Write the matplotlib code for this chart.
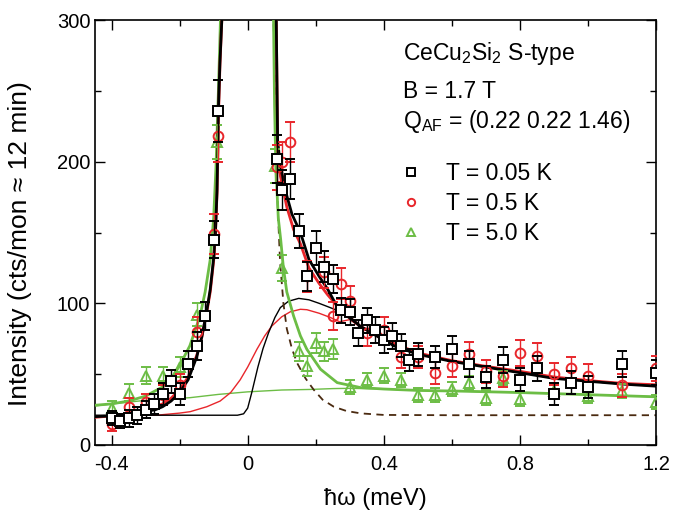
import matplotlib
matplotlib.use("Agg")
import matplotlib.pyplot as plt
from matplotlib.ticker import MultipleLocator

plt.rcParams['font.family'] = ['Liberation Sans', 'DejaVu Sans']
plt.rcParams['mathtext.default'] = 'regular'
plt.rcParams['mathtext.fontset'] = 'custom'
plt.rcParams['mathtext.rm'] = 'Liberation Sans'

# ---------------- data: T = 0.05 K (black squares) ----------------
x_005 = [-0.4, -0.375, -0.35, -0.325, -0.3, -0.275, -0.25, -0.225, -0.2, -0.175,
         -0.15, -0.125, -0.1, -0.0875, 0.0875, 0.1, 0.125, 0.15, 0.175, 0.2,
         0.225, 0.25, 0.275, 0.3, 0.325, 0.35, 0.375, 0.4, 0.425, 0.45,
         0.475, 0.5, 0.55, 0.6, 0.65, 0.7, 0.75, 0.8, 0.85, 0.9,
         0.95, 1.0, 1.1, 1.2]
y_005 = [19, 17, 19, 21, 25, 29, 36, 45, 36, 57,
         70, 91, 145, 236, 202, 180, 188, 151, 119, 139,
         126, 117, 95, 94, 79, 88, 81, 74, 77, 70,
         60, 64, 62, 68, 57, 48, 60, 46, 54, 36,
         44, 41, 57, 51]
e_005 = [5, 5, 6, 6, 6, 7, 8, 8, 8, 9,
         10, 10, 13, 22, 17, 14, 14, 12, 10, 12,
         11, 10, 9, 9, 9, 9, 9, 9, 9, 8,
         8, 8, 8, 9, 9, 8, 9, 8, 9, 8,
         8, 8, 9, 9]

# ---------------- data: T = 0.5 K (red circles) ----------------
x_05 = [-0.4, -0.35, -0.3, -0.25, -0.2, -0.15, -0.1, -0.0875, 0.0875, 0.1,
        0.125, 0.175, 0.225, 0.25, 0.275, 0.3, 0.35, 0.4, 0.45, 0.5,
        0.55, 0.6, 0.65, 0.7, 0.75, 0.8, 0.85, 0.9, 0.95, 1.0,
        1.1, 1.2]
y_05 = [15, 27, 30, 35, 42, 80, 149, 218, 196, 200,
        214, 119, 122, 91, 114, 102, 79, 81, 62, 62,
        51, 56, 64, 52, 49, 65, 63, 50, 54, 49,
        42, 54]
e_05 = [5, 6, 6, 7, 8, 10, 14, 18, 16, 14,
        14, 11, 11, 10, 11, 10, 9, 9, 8, 8,
        8, 8, 9, 8, 8, 9, 9, 8, 8, 8,
        8, 9]

# ---------------- data: T = 5.0 K (green triangles) ----------------
x_50 = [-0.4, -0.35, -0.3, -0.25, -0.2, -0.15, -0.09, 0.08, 0.1, 0.15,
        0.175, 0.2, 0.225, 0.25, 0.3, 0.35, 0.4, 0.45, 0.5, 0.55,
        0.6, 0.65, 0.7, 0.75, 0.8, 0.9, 1.0, 1.1, 1.2]
y_50 = [26, 37, 49, 49, 55, 92, 214, 197, 125, 66,
        56, 72, 66, 68, 41, 46, 49, 46, 35, 35,
        39.5, 44, 33.5, 47, 32.5, 38, 34.5, 38, 30.5]
e_50 = [5, 6, 6, 6, 7, 8, 12, 12, 9, 7,
        7, 7, 7, 7, 5, 5, 5, 5, 5, 5,
        5, 5, 5, 5, 5, 5, 5, 5, 5]

# ---------------- fit curves ----------------
fit005_x = [-0.45, -0.4, -0.35, -0.3, -0.27, -0.25, -0.225, -0.2, -0.175, -0.15,
            -0.135, -0.12, -0.11, -0.1, -0.095, -0.09, -0.086, -0.0815, -0.076, -0.07,
            0.07, 0.084, 0.088, 0.096, 0.115, 0.13, 0.155, 0.18, 0.21, 0.235,
            0.26, 0.28, 0.3, 0.33, 0.4, 0.43, 0.5, 0.6, 0.7, 0.8,
            0.9, 1.0, 1.1, 1.2]
fit005_y = [20, 20.5, 21.5, 23.5, 25, 27, 31, 37, 46, 62,
            76, 95, 110, 132, 148, 180, 237, 270, 300, 360,
            360, 300, 215, 197, 176, 163, 150, 131, 119, 110,
            99, 94, 90, 84, 74, 70, 64, 59, 55, 51,
            47, 45, 43, 41.5]

fit05_x = [-0.45, -0.4, -0.35, -0.3, -0.25, -0.225, -0.2, -0.175, -0.15, -0.135,
           -0.12, -0.11, -0.1, -0.095, -0.09, -0.086, -0.0815, -0.076, -0.07,
           0.07, 0.084, 0.088, 0.096, 0.115, 0.135, 0.155, 0.18, 0.21, 0.235,
           0.26, 0.3, 0.33, 0.4, 0.5, 0.6, 0.7, 0.8, 0.9, 1.0,
           1.1, 1.2]
fit05_y = [19.5, 20.5, 22, 24.5, 29, 33, 39, 48, 63, 76,
           94, 108, 130, 148, 178, 230, 268, 300, 360,
           360, 300, 210, 190, 168, 152, 142, 125, 114, 106,
           99, 90, 84, 74.5, 65, 59.5, 55.5, 52, 48, 45.5,
           43.5, 42.5]

fit50_x = [-0.45, -0.4, -0.35, -0.3, -0.25, -0.22, -0.2, -0.17, -0.14, -0.125,
           -0.11, -0.1, -0.093, -0.086, -0.08, -0.074,
           0.072, 0.076, 0.079, 0.083, 0.09, 0.097, 0.105, 0.115, 0.135, 0.155,
           0.174, 0.214, 0.263, 0.332, 0.4, 0.5, 0.626, 0.8, 1.0, 1.2]
fit50_y = [28, 29, 31, 34.5, 41, 48.5, 56, 70, 91, 108,
           131, 160, 197, 250, 300, 360,
           360, 300, 240, 195, 160, 145, 125, 108, 91, 77,
           67.5, 53.5, 44, 40.5, 39.5, 38.5, 38, 37, 35.5, 34]

# inelastic components (thin lines)
inel005_x = [-0.45, -0.1, -0.03, -0.012, 0.0, 0.012, 0.03, 0.045, 0.061, 0.08,
             0.096, 0.12, 0.15, 0.18, 0.21, 0.253, 0.28, 0.3, 0.33, 0.4,
             0.43, 0.5, 0.6, 0.7, 0.8, 0.9, 1.0, 1.1, 1.2]
inel005_y = [21, 21, 21, 22, 26, 37, 55, 68, 79, 90,
             97, 101.5, 103.5, 102.5, 100, 96, 92.5, 89, 83.5, 74,
             70, 64, 59, 55, 51, 47, 45, 43, 41.5]

inel05_x = [-0.45, -0.35, -0.268, -0.2, -0.169, -0.12, -0.081, -0.05, -0.022, 0.0,
            0.027, 0.05, 0.071, 0.1, 0.125, 0.155, 0.174, 0.21, 0.243, 0.27,
            0.3, 0.33, 0.4, 0.5, 0.6, 0.7, 0.8, 0.9, 1.0, 1.1, 1.2]
inel05_y = [20.5, 20.8, 21, 22.5, 23.5, 27, 31, 37, 46, 55,
            67.5, 77, 84, 90.5, 94, 95.8, 95.5, 93, 90, 87,
            88.5, 83.5, 74.5, 65, 59.5, 55.5, 52, 48, 45.5, 43.5, 42.5]

inel50_x = [-0.45, -0.4, -0.3, -0.169, -0.086, 0.0, 0.1, 0.184, 0.25, 0.3,
            0.4, 0.5, 0.626, 0.8, 1.0, 1.2]
inel50_y = [27.5, 29, 31.5, 33.4, 35.7, 37.5, 38.8, 39.2, 39.8, 40,
            39.5, 38.5, 38, 37, 35.5, 34]

# elastic line (dashed)
elas_x = [0.072, 0.077, 0.082, 0.088, 0.095, 0.105, 0.115, 0.13, 0.145, 0.17,
          0.194, 0.22, 0.253, 0.29, 0.332, 0.4, 0.6, 0.8, 1.0, 1.2]
elas_y = [330, 290, 220, 170, 130, 100, 82, 68, 58, 47,
          39, 32, 27, 24, 22.3, 21.2, 21, 21, 21, 21]

legend_labels = ['T = 0.05 K', 'T = 0.5 K', 'T = 5.0 K']

# ---------------- plotting ----------------
BLACK = 'black'
RED = '#e8262b'
GREEN = '#6cbd45'
DASH = '#4a2a10'

fig = plt.figure(figsize=(6.82, 5.15), dpi=100)
ax = fig.add_axes([0.1386, 0.136, 0.8234, 0.825])

# thin inelastic components
ax.plot(inel50_x, inel50_y, color=GREEN, lw=1.0, zorder=2)
ax.plot(inel05_x, inel05_y, color=RED, lw=1.0, zorder=2)
ax.plot(inel005_x, inel005_y, color=BLACK, lw=1.0, zorder=2)
# elastic
ax.plot(elas_x, elas_y, color=DASH, lw=1.3, ls=(0, (4, 3)), zorder=2)
# total fits
ax.plot(fit50_x, fit50_y, color=GREEN, lw=2.0, zorder=3)
ax.plot(fit05_x, fit05_y, color=RED, lw=2.0, zorder=3)
ax.plot(fit005_x, fit005_y, color=BLACK, lw=2.0, zorder=3)

ms = 7.0
mew = 1.4
eb50 = ax.errorbar(x_50, y_50, yerr=e_50, fmt='^', color=GREEN, mfc='none', mec=GREEN,
                   ms=ms, mew=mew, elinewidth=1.0, capsize=3.5, capthick=1.0, zorder=4)
eb05 = ax.errorbar(x_05, y_05, yerr=e_05, fmt='o', color=RED, mfc='none', mec=RED,
                   ms=ms, mew=mew, elinewidth=1.0, capsize=3.5, capthick=1.0, zorder=5)
eb005 = ax.errorbar(x_005, y_005, yerr=e_005, fmt='s', color=BLACK, mfc='white', mec=BLACK,
                    ms=ms, mew=mew, elinewidth=1.0, capsize=3.5, capthick=1.0, zorder=6)

ax.set_xlim(-0.45, 1.2)
ax.set_ylim(0, 300)
ax.set_xticks([-0.4, 0, 0.4, 0.8, 1.2])
ax.set_xticklabels(['-0.4', '0', '0.4', '0.8', '1.2'])
ax.xaxis.set_minor_locator(MultipleLocator(0.2))
ax.yaxis.set_major_locator(MultipleLocator(100))
ax.yaxis.set_minor_locator(MultipleLocator(50))
ax.tick_params(which='both', direction='in', top=True, right=True, width=1.0,
               labelsize=14.5)
ax.tick_params(which='major', length=7)
ax.tick_params(which='minor', length=4.5)
ax.tick_params(axis='x', which='major', pad=7)
ax.tick_params(axis='y', which='major', pad=3)
for s in ax.spines.values():
    s.set_linewidth(1.2)

ax.set_xlabel('ħω (meV)', fontsize=17, labelpad=10)
ax.set_ylabel('Intensity (cts/mon ≈ 12 min)', fontsize=19, labelpad=10)
ax.yaxis.set_label_coords(-0.112, 0.475)

ax.text(0.549, 0.906, 'CeCu$_2$Si$_2$ S-type', transform=ax.transAxes,
        fontsize=16.5, va='baseline', ha='left')
ax.text(0.549, 0.816, 'B = 1.7 T', transform=ax.transAxes,
        fontsize=16.5, va='baseline', ha='left')
ax.text(0.549, 0.745, 'Q$_{AF}$ = (0.22 0.22 1.46)', transform=ax.transAxes,
        fontsize=16.5, va='baseline', ha='left')

handles = [eb005[0], eb05[0], eb50[0]]
leg = ax.legend(handles, legend_labels, loc='upper left',
                bbox_to_anchor=(0.503, 0.714), frameon=False, fontsize=16.5,
                handletextpad=0.9, labelspacing=0.3, handlelength=1.2,
                markerscale=0.75, borderpad=0.4)

fig.savefig('out.png', dpi=100)
